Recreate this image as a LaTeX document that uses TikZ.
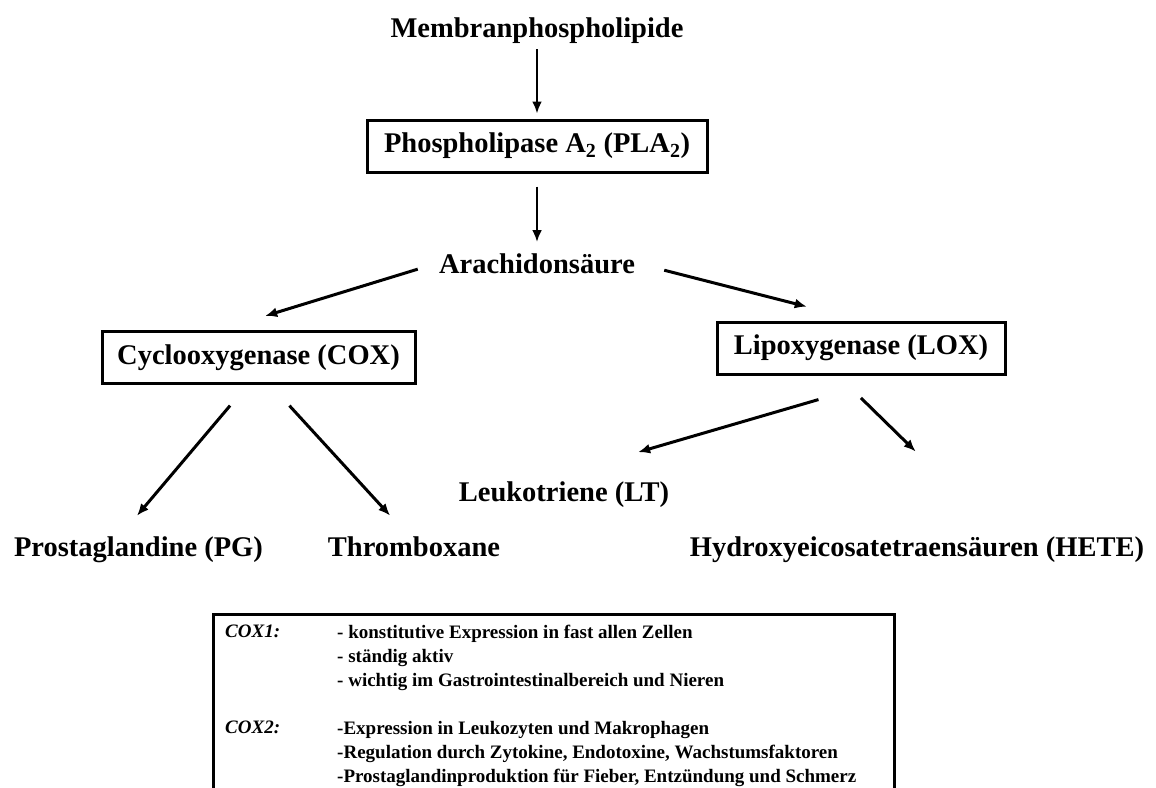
\documentclass[tikz,border=0pt]{standalone}
\usepackage{fontspec}
\setmainfont{Liberation Serif}
\usetikzlibrary{arrows.meta,calc}
\tikzset{
	lbl/.style={font=\fontsize{28.5}{34}\selectfont\bfseries, inner sep=2pt, anchor=base},
	enzbox/.style={lbl, draw=black, line width=3pt, anchor=center, minimum height=52pt},
	arr/.style={draw=black, line width=3pt, -{Latex[length=12pt,width=10pt]}},
	note/.style={font=\fontsize{19}{24}\selectfont\bfseries, inner sep=0pt, anchor=north west, align=left},
	notehead/.style={note, font=\fontsize{19}{24}\selectfont\bfseries\itshape},
}

\begin{document}
\begin{tikzpicture}[x=1pt,y=-1pt]
		\useasboundingbox (0,0) rectangle (1156,787);
%		\draw [red] (0,0) grid[step=50] (1156,787);
		\node [lbl] (memb) at (537,37) {Membranphospholipide};
		\node [enzbox, minimum width=340pt] (pla) at (537,146) {Phospholipase A\textsubscript{2} (PLA\textsubscript{2})};
		\node [lbl] (arach) at (537,273) {Arachidonsäure};
		\node [enzbox, minimum width=313pt] (cox) at (258.5,357.5) {Cyclooxygenase (COX)};
		\node [enzbox, minimum width=288pt] (lox) at (861,348) {Lipoxygenase (LOX)};
		\node [lbl] (leuk) at (564,501) {Leukotriene (LT)};
		\node [lbl] (prost) at (138.5,556) {Prostaglandine (PG)};
		\node [lbl] (thromb) at (414,556) {Thromboxane};
		\node [lbl] (hete) at (917,556) {Hydroxyeicosatetraensäuren (HETE)};
		\draw [arr, line width=2.5pt, shorten <=4pt, shorten >=5pt] (memb.south) to (pla.north);
		\draw [arr, line width=2.5pt, shorten <=13pt, shorten >=9pt] (pla.south) to (arach.north);
		\draw [arr, shorten <=20pt, shorten >=7pt] (arach.west) to ([yshift=12pt]cox.north);
		\draw [arr, shorten <=28pt, shorten >=56pt] (arach.east) to (lox.north);
		\draw [arr, shorten <=27pt, shorten >=24pt] ([xshift=-11pt]cox.south) to ([xshift=-17pt]prost.north);
		\draw [arr, shorten <=28pt, shorten >=25pt] ([xshift=12pt]cox.south) to ([xshift=-7pt]thromb.north);
		\draw [arr, shorten <=86pt, shorten >=96pt] ([xshift=40pt]lox.south) to ([xshift=-18pt]leuk.north);
		\draw [arr, shorten <=32pt, shorten >=118pt] ([xshift=-23pt]lox.south) to ([xshift=83pt]hete.north);
%		\draw [black] (lox.south) to (hete.north);
		\node [draw=black, line width=3pt, anchor=north west, minimum width=681pt, minimum height=220pt] (coxinfo) at (212,613) {};
		\node [notehead] (cox1) at (225,625) {COX1:};
		\node [note] (cox1txt) at (337,625) {- konstitutive Expression in fast allen Zellen\\- ständig aktiv\\- wichtig im Gastrointestinalbereich und Nieren};
		\node [notehead] (cox2) at (225,721) {COX2:};
		\node [note] (cox2txt) at (337,721) {-Expression in Leukozyten und Makrophagen\\-Regulation durch Zytokine, Endotoxine, Wachstumsfaktoren\\-Prostaglandinproduktion für Fieber, Entzündung und Schmerz};
\end{tikzpicture}
\end{document}
